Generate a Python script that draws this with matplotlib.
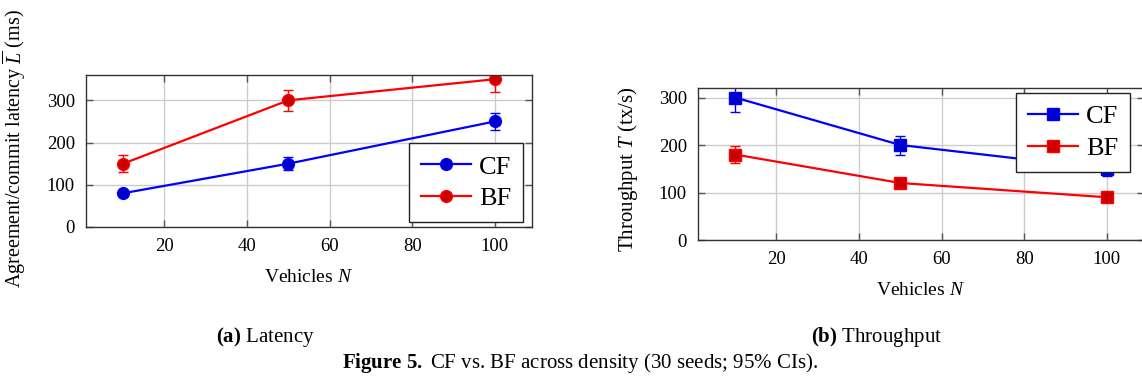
import matplotlib
matplotlib.use("Agg")
import matplotlib.pyplot as plt

plt.rcParams['font.family'] = ['Liberation Serif', 'DejaVu Serif']
plt.rcParams['mathtext.fontset'] = 'custom'
plt.rcParams['mathtext.rm'] = 'Liberation Serif'
plt.rcParams['mathtext.it'] = 'Liberation Serif:italic'
plt.rcParams['mathtext.bf'] = 'Liberation Serif:bold'

# data
vehicles = [10, 50, 100]
lat_cf = [80, 150, 250]
lat_cf_err = [5, 15, 20]
lat_bf = [150, 300, 350]
lat_bf_err = [20, 25, 30]
thr_cf = [300, 200, 150]
thr_cf_err = [30, 20, 15]
thr_bf = [180, 120, 90]
thr_bf_err = [18, 5, 5]

xticks = [20, 40, 60, 80, 100]

blue = '#0000ff'
blue_dark = '#0000cc'
red = '#ff0000'
red_dark = '#cc0000'

fig = plt.figure(figsize=(11.42, 3.85), dpi=100)
ax1 = fig.add_axes([0.0753, 0.4104, 0.3905, 0.3948])
ax2 = fig.add_axes([0.6112, 0.3766, 0.3905, 0.3948])


def style(ax, ylim, yticks):
    ax.set_xlim(1, 109)
    ax.set_ylim(*ylim)
    ax.set_xticks(xticks)
    ax.set_yticks(yticks)
    ax.grid(True, color='#cccccc', linewidth=1.0)
    ax.set_axisbelow(True)
    ax.tick_params(direction='in', length=5, width=1, color='#555555',
                   top=True, right=True, labelsize=13.5, pad=8)
    for s in ax.spines.values():
        s.set_color('#333333')
        s.set_linewidth(1.0)


def series(ax, y, err, c, cd, m, ms):
    cont = ax.errorbar(vehicles, y, yerr=err, color=c, marker=m, markersize=ms,
                       markerfacecolor=cd, markeredgecolor=c, markeredgewidth=1,
                       linewidth=1.6, elinewidth=1.0, capsize=3.8, capthick=1.0)
    return cont[0]


h1 = series(ax1, lat_cf, lat_cf_err, blue, blue_dark, 'o', 8.5)
h2 = series(ax1, lat_bf, lat_bf_err, red, red_dark, 'o', 8.5)
style(ax1, (0, 360), [0, 100, 200, 300])
ax1.set_xlabel('Vehicles $N$', fontsize=14, labelpad=10)
ax1.set_ylabel('Agreement/commit latency $\\overline{L}$ (ms)', fontsize=14.5)
ax1.yaxis.set_label_coords(-0.13, 0.516)

h3 = series(ax2, thr_cf, thr_cf_err, blue, blue_dark, 's', 8.5)
h4 = series(ax2, thr_bf, thr_bf_err, red, red_dark, 's', 8.5)
style(ax2, (0, 320), [0, 100, 200, 300])
ax2.set_xlabel('Vehicles $N$', fontsize=14, labelpad=10)
ax2.set_ylabel('Throughput $T$ (tx/s)', fontsize=15)
ax2.yaxis.set_label_coords(-0.13, 0.467)

for ax, hs, loc, anchor in [(ax1, [h1, h2], 'lower right', (0.98, 0.033)),
                            (ax2, [h3, h4], 'upper right', (0.969, 0.967))]:
    leg = ax.legend(hs, ['CF', 'BF'], loc=loc, bbox_to_anchor=anchor,
                    borderaxespad=0, fontsize=19, handlelength=1.9,
                    handletextpad=0.3, labelspacing=0.3, borderpad=0.45,
                    fancybox=False, framealpha=1)
    leg.get_frame().set_edgecolor('#222222')
    leg.get_frame().set_linewidth(1.0)

fig.text(265 / 1142, 1 - 337 / 385, r'$\mathbf{(a)}$ Latency', fontsize=15,
         ha='center', va='center')
fig.text(877 / 1142, 1 - 337 / 385, r'$\mathbf{(b)}$ Throughput', fontsize=15,
         ha='center', va='center')
fig.text(580 / 1142, 1 - 363 / 385,
         r'$\mathbf{Figure\ 5.}$ CF vs. BF across density (30 seeds; 95% CIs).',
         fontsize=15, ha='center', va='center')

fig.savefig('out.png', dpi=100)
